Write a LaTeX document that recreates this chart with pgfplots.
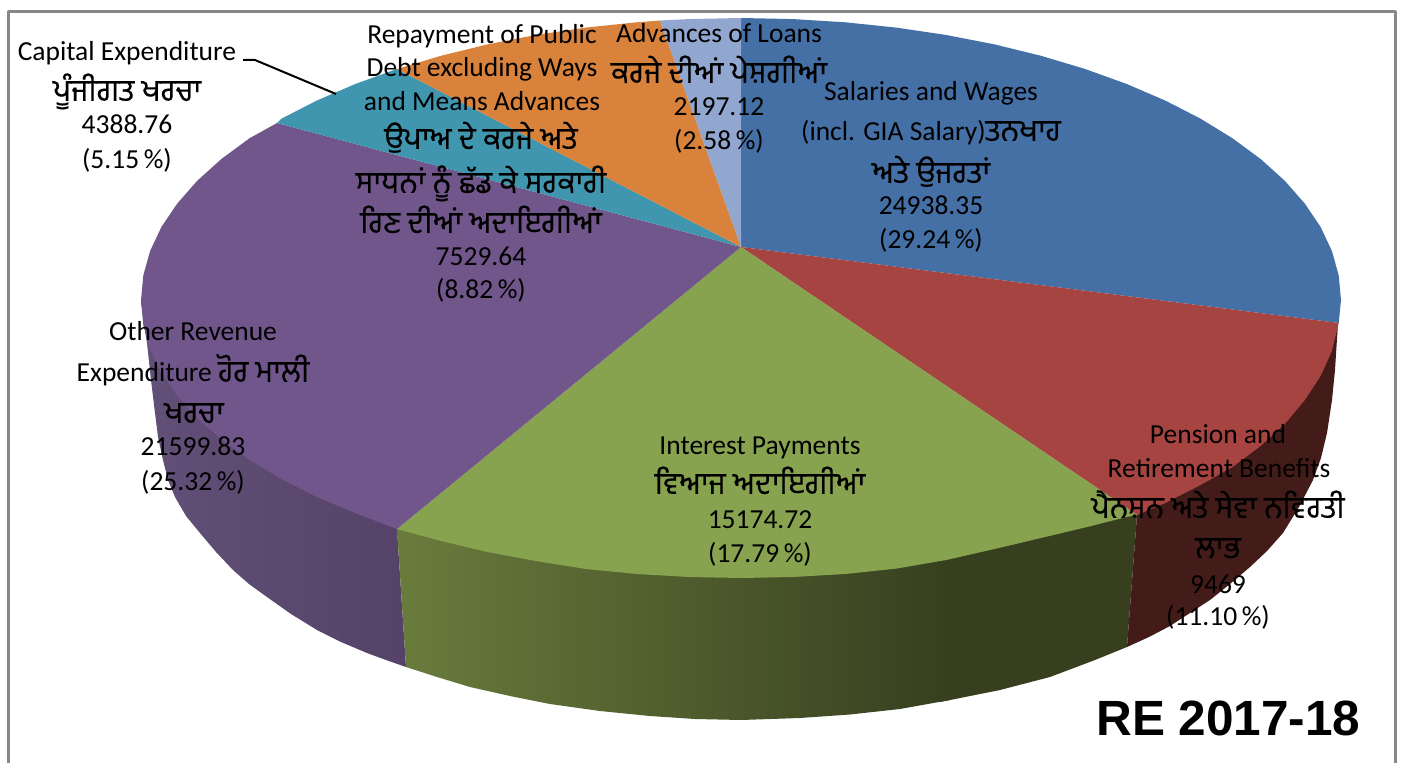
\documentclass[border=0pt]{standalone}
\usepackage{pgfplots}
\pgfplotsset{compat=1.18}
\usepackage{fontspec}
\setmainfont{Carlito}
\newfontfamily\pafont[Script=Gurmukhi,FakeBold=0.3]{Hind Jalandhar}
\newcommand{\pa}{\pafont\fontsize{30.5}{34}\selectfont}
\newfontfamily\ar{Liberation Sans}
\definecolor{cblue}{HTML}{4470A6}
\definecolor{cred}{HTML}{A64442}
\definecolor{cgreen}{HTML}{87A34F}
\definecolor{cpurple}{HTML}{70568A}
\definecolor{cteal}{HTML}{4096AE}
\definecolor{corange}{HTML}{D9823B}
\definecolor{clight}{HTML}{92A7CF}
\definecolor{wpa}{HTML}{625078}
\definecolor{wpb}{HTML}{544268}
\definecolor{wga}{HTML}{697C3C}
\definecolor{wgc}{HTML}{373F1F}
\definecolor{wred}{HTML}{431C1A}
\tikzset{lab/.style={anchor=base,inner sep=0pt,yshift=-0.8pt,font=\fontsize{27.5}{32}\selectfont,text=black}}
\begin{document}
\begin{tikzpicture}
\begin{axis}[hide axis,scale only axis,width=1403pt,height=763pt,
  xmin=0,xmax=1403,ymin=0,ymax=763,y dir=reverse,clip=false,
  every axis plot/.append style={line join=round}]
% page and frame
\addplot[draw=none,fill=white] coordinates {(0,0)(1403,0)(1403,763)(0,763)} -- cycle;
\addplot[draw=black!47,line width=3pt] coordinates {(8,763)(8,12)(1395,12)(1395,763)};
% walls
\addplot[draw=none,left color=wpa,right color=wpb] coordinates {(397,529)(141,300)(144,325)(147,343)(151,380)(155,413)(158,437)(163,460)(168,480)(175,497)(186,516)(200,533)(216,552)(233,570)(249,584)(267,597)(291,614)(317,630)(341,642)(367,653)(386,660)(406,667)} -- cycle;
\addplot[draw=none,fill=wgc] coordinates {(940,540)(1137,515)(1127,647)(1095,660)(1050,677)(1000,690)(950,700)(940,702)} -- cycle;
\addplot[draw=none,left color=wga,right color=wgc] coordinates {(397,529)(950,540)(950,700)(900,709)(850,714.5)(800,718)(741,720)(695,719)(650,716)(600,711)(550,704)(510,696)(470,687)(437,677)(406,667)} -- cycle;
\addplot[draw=none,fill=wred] coordinates {(1137,515)(1338,323)(1335,370)(1332,400)(1327,433)(1321,458)(1313,480)(1299,507)(1283,533)(1267,551)(1250,567)(1230,584)(1210,600)(1190,613)(1170,626)(1149,637)(1127,647)} -- cycle;
% top slices
\addplot[draw=none,fill=cblue] coordinates {(741,247)(741,18)(793.3,19.1)(845.2,22.3)(896.3,27.6)(946.2,35)(994.6,44.4)(1041,55.8)(1085.1,69)(1126.7,84)(1165.3,100.6)(1200.6,118.7)(1232.5,138.3)(1260.6,159)(1284.8,180.8)(1304.8,203.6)(1320.6,227)(1331.9,251)(1338.7,275.4)(1341,300)(1338.7,323)} -- cycle;
\addplot[draw=none,fill=cred] coordinates {(741,247)(1338.7,323)(1331.9,351)(1320.6,376)(1304.8,400)(1284.8,424)(1260.6,446)(1232.5,467)(1200.6,485)(1165.3,503)(1137,515)} -- cycle;
\addplot[draw=none,fill=cgreen] coordinates {(741,247)(1137,515)(1126.7,517)(1085.1,527.5)(1041,538)(994.6,549)(946.2,560)(896.3,568.6)(845.2,574)(793.3,577)(741,578)(688.7,577)(636.8,574)(585.7,569)(535.8,561)(487.4,552)(441,541)(397,529)} -- cycle;
\addplot[draw=none,fill=cpurple] coordinates {(741,247)(397,529)(355.3,513.2)(316.7,496.9)(281.4,479)(249.5,459.9)(221.4,439.5)(197.2,418.1)(177.2,395.7)(161.4,372.7)(150.1,349.1)(143.3,325.1)(141,300.5)(143.3,275.4)(150.1,251)(161.4,227)(177.2,203.6)(197.2,180.8)(221.4,159)(249.5,138.3)(277,123)} -- cycle;
\addplot[draw=none,fill=cteal] coordinates {(741,247)(277,123)(281.4,118.7)(316.7,100.6)(355.3,84)(396.9,69)} -- cycle;
\addplot[draw=none,fill=corange] coordinates {(741,247)(396.9,69)(441,55.8)(487.4,44.4)(535.8,35)(585.7,27.6)(636.8,22.3)(660,20.5)} -- cycle;
\addplot[draw=none,fill=clight] coordinates {(741,247)(660,20.5)(688.7,19.1)(741,18)} -- cycle;
% leader
\addplot[draw=black,line width=2pt] coordinates {(243,60)(255,60)(336,94)};
% labels
\node[lab] at (axis cs:127,60) {Capital Expenditure};
\node[lab] at (axis cs:127,100) {\pa ਪੂੰਜੀਗਤ ਖਰਚਾ};
\node[lab] at (axis cs:127,133) {4388.76};
\node[lab] at (axis cs:127,168) {(5.15\,\%)};
\node[lab] at (axis cs:482,43) {Repayment of Public};
\node[lab] at (axis cs:482,76) {Debt excluding Ways};
\node[lab] at (axis cs:482,110) {and Means Advances};
\node[lab] at (axis cs:481,148) {\pa ਉਪਾਅ ਦੇ ਕਰਜੇ ਅਤੇ};
\node[lab] at (axis cs:481,192) {\pa ਸਾਧਨਾਂ ਨੂੰ ਛੱਡ ਕੇ ਸਰਕਾਰੀ};
\node[lab] at (axis cs:481,232) {\pa ਰਿਣ ਦੀਆਂ ਅਦਾਇਗੀਆਂ};
\node[lab] at (axis cs:481,265) {7529.64};
\node[lab] at (axis cs:481,298) {(8.82\,\%)};
\node[lab] at (axis cs:719,42) {Advances of Loans};
\node[lab] at (axis cs:719,82) {\pa ਕਰਜੇ ਦੀਆਂ ਪੇਸ਼ਗੀਆਂ};
\node[lab] at (axis cs:719,115) {2197.12};
\node[lab] at (axis cs:719,149) {(2.58\,\%)};
\node[lab] at (axis cs:931,100) {Salaries and Wages};
\node[lab] at (axis cs:931,140) {(incl. GIA Salary){\pa ਤਨਖਾਹ}};
\node[lab] at (axis cs:931,182) {\pa ਅਤੇ ਉਜਰਤਾਂ};
\node[lab] at (axis cs:931,214) {24938.35};
\node[lab] at (axis cs:931,248) {(29.24\,\%)};
\node[lab] at (axis cs:193,340) {Other Revenue};
\node[lab] at (axis cs:193,381) {Expenditure {\pa ਹੋਰ ਮਾਲੀ}};
\node[lab] at (axis cs:194,422) {\pa ਖਰਚਾ};
\node[lab] at (axis cs:193,455) {21599.83};
\node[lab] at (axis cs:193,490) {(25.32\,\%)};
\node[lab] at (axis cs:760,454) {Interest Payments};
\node[lab] at (axis cs:760,493) {\pa ਵਿਆਜ ਅਦਾਇਗੀਆਂ};
\node[lab] at (axis cs:760,528) {15174.72};
\node[lab] at (axis cs:760,562) {(17.79\,\%)};
\node[lab] at (axis cs:1218,443) {Pension and};
\node[lab] at (axis cs:1219,477) {Retirement Benefits};
\node[lab] at (axis cs:1218,517) {\pa ਪੈਨਸ਼ਨ ਅਤੇ ਸੇਵਾ ਨਵਿਰਤੀ};
\node[lab] at (axis cs:1218,557) {\pa ਲਾਭ};
\node[lab] at (axis cs:1218,593) {9469};
\node[lab] at (axis cs:1218,625) {(11.10\,\%)};
\node[anchor=base,inner sep=0pt,font=\ar\bfseries\fontsize{49.5}{56}\selectfont] at (axis cs:1228.5,735) {RE 2017-18};
\end{axis}
\end{tikzpicture}
\end{document}
